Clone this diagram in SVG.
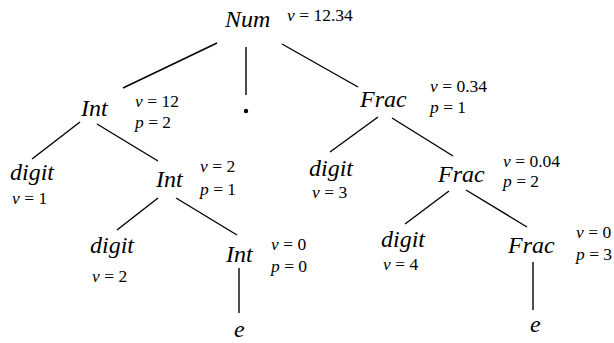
<svg xmlns="http://www.w3.org/2000/svg" width="614" height="343" viewBox="0 0 614 343">
<rect width="614" height="343" fill="#fff"/>
<g id="connectors" stroke="#000" stroke-width="1.4">
<line x1="217" y1="43" x2="123" y2="88"/>
<line x1="246" y1="47" x2="246" y2="95"/>
<line x1="282" y1="44" x2="358" y2="87"/>
<line x1="80" y1="122" x2="32" y2="159"/>
<line x1="97" y1="124" x2="158" y2="161"/>
<line x1="158" y1="198" x2="117" y2="230"/>
<line x1="176" y1="198" x2="237" y2="235"/>
<line x1="239" y1="268" x2="239" y2="313"/>
<line x1="378" y1="117" x2="330" y2="152"/>
<line x1="392" y1="118" x2="453" y2="156"/>
<line x1="449" y1="191" x2="405" y2="224"/>
<line x1="466" y1="190" x2="527" y2="227"/>
<line x1="533" y1="262" x2="533" y2="310"/>
</g>
<g id="num"><text font-family="Liberation Serif" font-size="24" font-style="italic" x="225" y="27">Num</text><text font-family="Liberation Serif" font-size="17.5" x="287" y="21"><tspan font-style="italic">v</tspan> = 12.34</text></g>
<g id="int1"><text font-family="Liberation Serif" font-size="24" font-style="italic" x="81" y="116">Int</text><text font-family="Liberation Serif" font-size="17.5" x="135" y="107"><tspan font-style="italic">v</tspan> = 12</text><text font-family="Liberation Serif" font-size="17.5" x="135" y="128"><tspan font-style="italic">p</tspan> = 2</text></g>
<g id="dot"><circle cx="246" cy="111" r="2.2" fill="#000"/></g>
<g id="frac1"><text font-family="Liberation Serif" font-size="24" font-style="italic" x="360" y="107">Frac</text><text font-family="Liberation Serif" font-size="17.5" x="430" y="92"><tspan font-style="italic">v</tspan> = 0.34</text><text font-family="Liberation Serif" font-size="17.5" x="430" y="113"><tspan font-style="italic">p</tspan> = 1</text></g>
<g id="digit1"><text font-family="Liberation Serif" font-size="24" font-style="italic" x="10" y="180">digit</text><text font-family="Liberation Serif" font-size="17.5" x="12" y="204"><tspan font-style="italic">v</tspan> = 1</text></g>
<g id="int2"><text font-family="Liberation Serif" font-size="24" font-style="italic" x="156" y="187">Int</text><text font-family="Liberation Serif" font-size="17.5" x="200" y="172"><tspan font-style="italic">v</tspan> = 2</text><text font-family="Liberation Serif" font-size="17.5" x="200" y="195"><tspan font-style="italic">p</tspan> = 1</text></g>
<g id="digit2"><text font-family="Liberation Serif" font-size="24" font-style="italic" x="309" y="176">digit</text><text font-family="Liberation Serif" font-size="17.5" x="312" y="198"><tspan font-style="italic">v</tspan> = 3</text></g>
<g id="frac2"><text font-family="Liberation Serif" font-size="24" font-style="italic" x="438" y="182">Frac</text><text font-family="Liberation Serif" font-size="17.5" x="503" y="167"><tspan font-style="italic">v</tspan> = 0.04</text><text font-family="Liberation Serif" font-size="17.5" x="503" y="187"><tspan font-style="italic">p</tspan> = 2</text></g>
<g id="digit3"><text font-family="Liberation Serif" font-size="24" font-style="italic" x="90" y="253">digit</text><text font-family="Liberation Serif" font-size="17.5" x="92" y="282"><tspan font-style="italic">v</tspan> = 2</text></g>
<g id="int3"><text font-family="Liberation Serif" font-size="24" font-style="italic" x="226" y="262">Int</text><text font-family="Liberation Serif" font-size="17.5" x="271" y="250"><tspan font-style="italic">v</tspan> = 0</text><text font-family="Liberation Serif" font-size="17.5" x="271" y="272"><tspan font-style="italic">p</tspan> = 0</text></g>
<g id="e1"><text font-family="Liberation Serif" font-size="24" font-style="italic" x="234" y="337">e</text></g>
<g id="digit4"><text font-family="Liberation Serif" font-size="24" font-style="italic" x="381" y="247">digit</text><text font-family="Liberation Serif" font-size="17.5" x="383" y="270"><tspan font-style="italic">v</tspan> = 4</text></g>
<g id="frac3"><text font-family="Liberation Serif" font-size="24" font-style="italic" x="508" y="253">Frac</text><text font-family="Liberation Serif" font-size="17.5" x="576" y="238"><tspan font-style="italic">v</tspan> = 0</text><text font-family="Liberation Serif" font-size="17.5" x="576" y="260"><tspan font-style="italic">p</tspan> = 3</text></g>
<g id="e2"><text font-family="Liberation Serif" font-size="24" font-style="italic" x="530" y="332">e</text></g>
</svg>
